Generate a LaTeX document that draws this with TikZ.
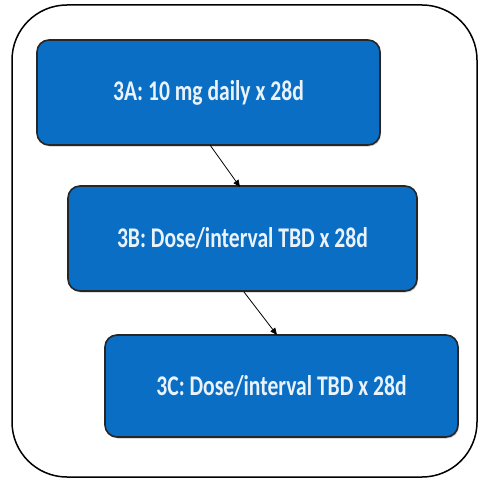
\documentclass[tikz,border=0pt]{standalone}
\usepackage{fontspec}
\usepackage{graphicx}
\setmainfont{Carlito}
\usetikzlibrary{arrows.meta,shadows}
\definecolor{stepblue}{HTML}{0A6EC4}
\definecolor{steptext}{HTML}{EAF2FA}
\newcommand{\steplabel}[1]{\scalebox{1}[1.32]{#1}}
\tikzset{
  stepbox/.style={draw=black!85, line width=1.6pt, fill=stepblue, rounded corners=12pt,
    drop shadow={shadow xshift=1pt, shadow yshift=-1.5pt, opacity=0.4},
    text=steptext, font=\bfseries\fontsize{21.6}{24}\selectfont, inner sep=0pt},
  link/.style={draw=black, line width=0.8pt, -{Triangle[length=7pt,width=6pt]}}
}
\begin{document}
\begin{tikzpicture}[x=1pt,y=-1pt]
\useasboundingbox (0,0) rectangle (486,481);
% outer frame
\draw[line width=1.5pt, rounded corners=55pt] (12,5) rectangle (477,477);
% the three steps
\node[stepbox, minimum width=343pt, minimum height=105pt] (a) at (208.5,92.5) {\steplabel{3A: 10 mg daily x 28d}};
\node[stepbox, minimum width=349pt, minimum height=105pt] (b) at (242.5,238.5) {\steplabel{3B: Dose/interval TBD x 28d}};
\node[stepbox, minimum width=353pt, minimum height=102pt] (c) at (281.5,386) {\steplabel{3C: Dose/interval TBD x 28d}};
% connectors
\coordinate (a1) at (210,145);
\coordinate (b0) at (240,187);
\coordinate (b1) at (244,292);
\coordinate (c0) at (277,335);
\draw[link] (a1) -- (b0);
\draw[link] (b1) -- (c0);
\end{tikzpicture}
\end{document}
